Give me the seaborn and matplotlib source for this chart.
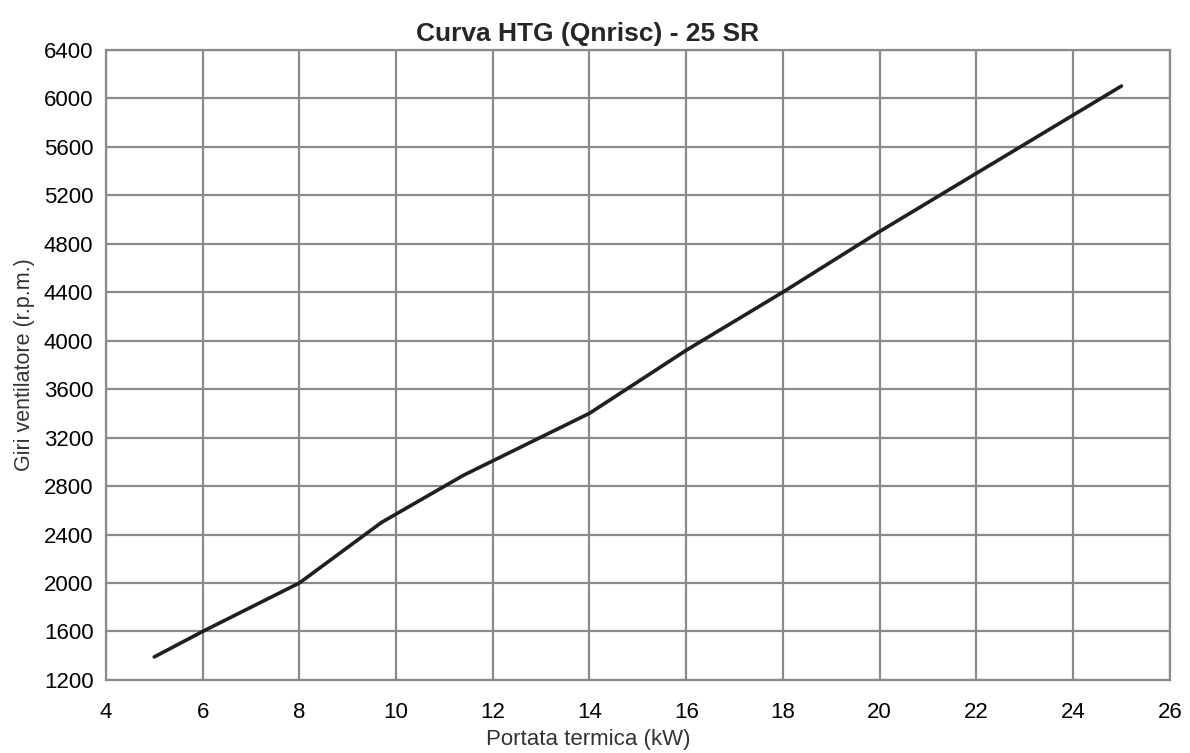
import seaborn as sns
import pandas as pd
from matplotlib import pyplot as plt

# curve points
portata_kw = [5, 6, 8, 9.7, 11.4, 14, 16, 18, 20, 25]
giri_rpm = [1390, 1600, 2000, 2500, 2890, 3400, 3920, 4400, 4900, 6100]

x_ticks = list(range(4, 27, 2))
y_ticks = list(range(1200, 6401, 400))

df = pd.DataFrame({"portata": portata_kw, "giri": giri_rpm})

sns.set_style("whitegrid")
plt.rcParams['font.family'] = ['Liberation Sans', 'DejaVu Sans']

grid_col = "#8a8a8e"
fig = plt.figure(figsize=(11.9, 7.53), dpi=100)
ax = fig.add_axes([0.089, 0.097, 0.894, 0.837])

sns.lineplot(ax=ax, data=df, x="portata", y="giri", color="#231f20", linewidth=2.6)

ax.set_xlim(4, 26)
ax.set_ylim(1200, 6400)
ax.set_xticks(x_ticks)
ax.set_yticks(y_ticks)
ax.grid(True, color=grid_col, linewidth=1.6)
for s in ax.spines.values():
    s.set_visible(True)
    s.set_color(grid_col)
    s.set_linewidth(1.6)
ax.tick_params(axis="both", direction="out", length=6, width=1.4, color=grid_col,
               labelsize=16, labelcolor="black")
ax.tick_params(axis="x", pad=10)
ax.tick_params(axis="y", pad=3)

# title and x label sit centred on the figure, not the plot area
ax.set_title("Curva HTG (Qnrisc) - 25 SR", fontsize=19, fontweight="bold", pad=6, x=0.453)
ax.set_xlabel("Portata termica (kW)", fontsize=16, color="#333333", labelpad=4, x=0.453)
ax.set_ylabel("Giri ventilatore (r.p.m.)", fontsize=15.5, color="#333333", labelpad=6)

fig.savefig("out.png", dpi=100)
